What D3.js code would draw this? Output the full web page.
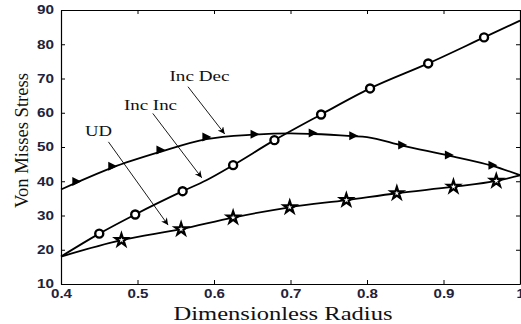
<!DOCTYPE html>
<html>
<head>
<meta charset="utf-8">
<script src="https://cdn.jsdelivr.net/npm/d3@7"></script>
<style>
  body { margin: 0; background: #fff; }
  .tickText { font-family: 'Liberation Sans', Arial, sans-serif; font-weight: bold; font-size: 12px; fill: #22223a; }
  .titleText { font-family: 'Liberation Serif', 'Times New Roman', serif; fill: #111; }
</style>
</head>
<body>
<div id="chart"></div>
<script>
//////// DATA ////////
const xTicks = [0.4, 0.5, 0.6, 0.7, 0.8, 0.9, 1]
const yTicks = [10, 20, 30, 40, 50, 60, 70, 80, 90]

// Inc Inc (circles)
const incIncLineX = [0.4, 0.45, 0.497, 0.559, 0.59, 0.625, 0.679, 0.74, 0.804, 0.88, 0.953, 1.0]
const incIncLineY = [18.0, 24.7, 30.3, 37.1, 40.3, 44.7, 52.0, 59.5, 67.1, 74.4, 82.0, 86.9]
const incIncMarkX = [0.45, 0.497, 0.559, 0.625, 0.679, 0.74, 0.804, 0.88, 0.953]
const incIncMarkY = [24.7, 30.3, 37.1, 44.7, 52.0, 59.5, 67.1, 74.4, 82.0]

// Inc Dec (triangles)
const incDecLineX = [0.4, 0.42, 0.467, 0.53, 0.59, 0.65, 0.70, 0.73, 0.78, 0.80, 0.846, 0.907, 0.964, 1.0]
const incDecLineY = [37.6, 39.6, 44.0, 48.6, 52.3, 53.6, 54.0, 53.8, 53.2, 52.9, 50.4, 47.5, 44.5, 41.8]
const incDecMarkX = [0.42, 0.467, 0.53, 0.59, 0.653, 0.729, 0.782, 0.846, 0.907, 0.964]
const incDecMarkY = [39.9, 44.4, 49.1, 52.9, 53.7, 54.1, 53.3, 50.6, 47.7, 44.7]

// UD (stars)
const udLineX = [0.4, 0.479, 0.557, 0.625, 0.699, 0.773, 0.839, 0.913, 0.969, 1.0]
const udLineY = [18.0, 22.8, 26.0, 29.4, 32.4, 34.5, 36.5, 38.4, 40.1, 41.7]
const udMarkX = [0.479, 0.557, 0.625, 0.699, 0.773, 0.839, 0.913, 0.969]
const udMarkY = [22.8, 26.0, 29.4, 32.4, 34.5, 36.5, 38.4, 40.1]

// annotations: label, text anchor (x,y), arrow start, arrow end
const noteLabels = ['Inc Dec', 'Inc Inc', 'UD']
const noteTextX = [0.581, 0.517, 0.449]
const noteTextY = [69.4, 60.8, 53.2]
const noteFromX = [0.566, 0.520, 0.462]
const noteFromY = [67.6, 59.8, 51.5]
const noteToX = [0.614, 0.584, 0.540]
const noteToY = [53.8, 41.0, 27.2]

//////// SETUP ////////
const width = 521, height = 324
const mLeft = 61, mRight = 520, mTop = 10, mBottom = 284

const svg = d3.select('#chart').append('svg')
  .attr('width', width)
  .attr('height', height)

const x = d3.scaleLinear().domain([0.4, 1.0]).range([mLeft, mRight])
const y = d3.scaleLinear().domain([10, 90]).range([mBottom, mTop])

const defs = svg.append('defs')
defs.append('marker')
  .attr('id', 'arrowHead')
  .attr('viewBox', '0 0 10 10')
  .attr('refX', 10).attr('refY', 5)
  .attr('markerWidth', 9).attr('markerHeight', 7)
  .attr('markerUnits', 'userSpaceOnUse')
  .attr('orient', 'auto')
  .append('path').attr('d', 'M0,0 L10,5 L0,10 L3,5 Z').attr('fill', '#000')

//////// AXES ////////
const xAxisB = d3.axisBottom(x).tickValues(xTicks).tickSizeInner(-4).tickSizeOuter(0).tickFormat(d => d == 1 ? '1' : d3.format('.1f')(d))
const xAxisT = d3.axisTop(x).tickValues(xTicks).tickSizeInner(-4).tickSizeOuter(0).tickFormat('')
const yAxisL = d3.axisLeft(y).tickValues(yTicks).tickSizeInner(-4).tickSizeOuter(0)
const yAxisR = d3.axisRight(y).tickValues(yTicks).tickSizeInner(-4).tickSizeOuter(0).tickFormat('')

const gxB = svg.append('g').attr('transform', 'translate(0,' + mBottom + ')').call(xAxisB)
svg.append('g').attr('transform', 'translate(0,' + mTop + ')').call(xAxisT)
const gyL = svg.append('g').attr('transform', 'translate(' + mLeft + ',0)').call(yAxisL)
svg.append('g').attr('transform', 'translate(' + mRight + ',0)').call(yAxisR)

svg.selectAll('.domain').attr('stroke', '#000').attr('stroke-width', 1.2)
svg.selectAll('.tick line').attr('stroke', '#000')

gxB.selectAll('text').attr('class', 'tickText').attr('y', 5).attr('dy', '0.71em')
  .attr('textLength', d => d == 1 ? 8 : 21).attr('lengthAdjust', 'spacingAndGlyphs')
gyL.selectAll('text').attr('class', 'tickText').attr('x', -7)
  .attr('textLength', 17).attr('lengthAdjust', 'spacingAndGlyphs')

// axis titles
svg.append('text').attr('class', 'titleText')
  .attr('x', 283).attr('y', 320)
  .attr('text-anchor', 'middle').style('font-size', '18px')
  .attr('textLength', 219).attr('lengthAdjust', 'spacingAndGlyphs')
  .text('Dimensionless Radius')

svg.append('text').attr('class', 'titleText')
  .attr('transform', 'translate(28,140.5) rotate(-90)')
  .attr('text-anchor', 'middle').style('font-size', '18px')
  .attr('textLength', 135).attr('lengthAdjust', 'spacingAndGlyphs')
  .text('Von Misses Stress')

//////// LINES ////////
const line = d3.line().x(d => x(d[0])).y(d => y(d[1])).curve(d3.curveMonotoneX)
const plot = svg.append('g')

const series = [
  [incDecLineX, incDecLineY],
  [incIncLineX, incIncLineY],
  [udLineX, udLineY]
]
plot.selectAll('.dataLine').data(series).enter().append('path')
  .attr('class', 'dataLine')
  .attr('fill', 'none').attr('stroke', '#000').attr('stroke-width', 1.8)
  .attr('d', d => line(d[0].map((v, i) => [v, d[1][i]])))

//////// MARKERS ////////
// triangles pointing right
plot.selectAll('.triPt').data(incDecMarkX.map((v, i) => [v, incDecMarkY[i]])).enter()
  .append('path').attr('class', 'triPt')
  .attr('transform', d => 'translate(' + x(d[0]) + ',' + y(d[1]) + ')')
  .attr('d', 'M-4,-4.5 L5,0 L-4,4.5 Z')
  .attr('fill', '#000')

// circles
plot.selectAll('.circPt').data(incIncMarkX.map((v, i) => [v, incIncMarkY[i]])).enter()
  .append('circle').attr('class', 'circPt')
  .attr('cx', d => x(d[0])).attr('cy', d => y(d[1])).attr('r', 4)
  .attr('fill', '#fff').attr('stroke', '#000').attr('stroke-width', 2.4)

// stars
const star = d3.symbol().type(d3.symbolStar).size(45)
plot.selectAll('.starPt').data(udMarkX.map((v, i) => [v, udMarkY[i]])).enter()
  .append('path').attr('class', 'starPt')
  .attr('transform', d => 'translate(' + x(d[0]) + ',' + y(d[1]) + ')')
  .attr('d', star)
  .attr('fill', '#fff').attr('stroke', '#000').attr('stroke-width', 2.2)

//////// ANNOTATIONS ////////
const notes = noteLabels.map((t, i) => ({
  t: t, tx: noteTextX[i], ty: noteTextY[i],
  fx: noteFromX[i], fy: noteFromY[i], ex: noteToX[i], ey: noteToY[i]
}))
const noteW = { 'Inc Dec': 60, 'Inc Inc': 53, 'UD': 27 }

svg.selectAll('.noteArrow').data(notes).enter().append('line')
  .attr('class', 'noteArrow')
  .attr('x1', d => x(d.fx)).attr('y1', d => y(d.fy))
  .attr('x2', d => x(d.ex)).attr('y2', d => y(d.ey))
  .attr('stroke', '#000').attr('stroke-width', 0.9)
  .attr('marker-end', 'url(#arrowHead)')

svg.selectAll('.noteText').data(notes).enter().append('text')
  .attr('class', 'titleText noteText')
  .attr('x', d => x(d.tx)).attr('y', d => y(d.ty))
  .attr('text-anchor', 'middle').style('font-size', '14px')
  .attr('textLength', d => noteW[d.t]).attr('lengthAdjust', 'spacingAndGlyphs')
  .text(d => d.t)
</script>
</body>
</html>
